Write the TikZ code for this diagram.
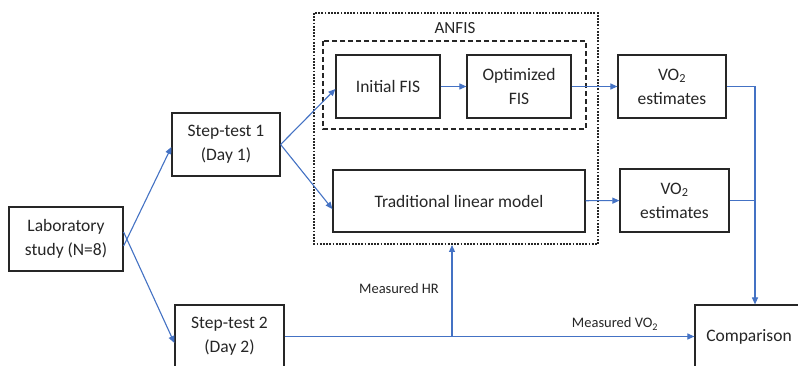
\documentclass[tikz,border=0pt]{standalone}
\usepackage{fontspec}
\setmainfont{Carlito}
\usetikzlibrary{arrows.meta}
\definecolor{arr}{HTML}{4472C4}
\definecolor{bd}{HTML}{262626}
\tikzset{
  box/.style={draw=bd, line width=1.2pt, align=center, font=\fontsize{17.5}{24}\selectfont, inner sep=0pt, text=black!85},
  conn/.style={draw=arr, line width=1.1pt, -{Triangle[length=7pt,width=6pt]}},
  plain/.style={draw=arr, line width=1.1pt},
  lbl/.style={font=\fontsize{14.5}{17}\selectfont, text=black!85}
}
\begin{document}
\begin{tikzpicture}[x=1pt,y=-1pt]
\useasboundingbox (0,0) rectangle (798,366);
\clip (0,0) rectangle (798,366);
\fill[white] (0,0) rectangle (798,366);
% containers
\draw[bd, line width=1.1pt, dash pattern=on 1.8pt off 1.4pt] (314,13) rectangle (598,244);
\node[lbl, font=\fontsize{17}{20}\selectfont] (anfis) at (455,28) {ANFIS};
\draw[bd, line width=1.1pt, dash pattern=on 5pt off 3pt] (323,41) rectangle (586,129);
% nodes
\node[box, minimum width=114pt, minimum height=64pt] (lab) at (66,239) {Laboratory\\study (N=8)};
\node[box, minimum width=108pt, minimum height=63pt] (s1) at (226,144.5) {Step-test 1\\(Day 1)};
\node[box, minimum width=109pt, minimum height=63pt] (s2) at (229.5,336.5) {Step-test 2\\(Day 2)};
\node[box, minimum width=104pt, minimum height=63pt] (ifis) at (388,86.5) {Initial FIS};
\node[box, minimum width=104pt, minimum height=63pt] (ofis) at (519,86.5) {Optimized\\FIS};
\node[box, minimum width=252pt, minimum height=62pt] (tlm) at (459,201) {Traditional linear model};
\node[box, minimum width=108pt, minimum height=63pt] (v1) at (672,86.5) {VO\textsubscript{2}\\estimates};
\node[box, minimum width=109pt, minimum height=63pt] (v2) at (674.5,200.5) {VO\textsubscript{2}\\estimates};
\node[box, minimum width=108pt, minimum height=63pt] (cmp) at (749,336.5) {Comparison};
% connectors
\draw[conn] ([yshift=-7pt]lab.east) -- ([yshift=-2.5pt]s1.west);
\draw[conn] ([yshift=7pt]lab.east) -- ([yshift=-6.5pt]s2.west);
\draw[conn] (s1.east) -- ([yshift=-2.5pt]ifis.west);
\draw[conn] (s1.east) -- ([yshift=-8pt]tlm.west);
\draw[conn] (ifis) -- (ofis);
\draw[conn] (ofis) -- (v1);
\draw[conn] (tlm) -- (v2);
\coordinate (j1) at (755,86.5);
\coordinate (j2) at (755,200.5);
\draw[plain] (v1.east) -- (j1);
\draw[plain] (v2.east) -- (j2);
\draw[conn] (j1) -- (j1 |- cmp.north);
\draw[conn] (s2.east) -- (cmp.west);
\coordinate (hr) at (452,336.5);
\draw[conn] (hr) -- (452,245);
\node[lbl] (mhr) at (399,289) {Measured HR};
\node[lbl] (mvo) at (615,324) {Measured VO\textsubscript{2}};
\end{tikzpicture}
\end{document}
